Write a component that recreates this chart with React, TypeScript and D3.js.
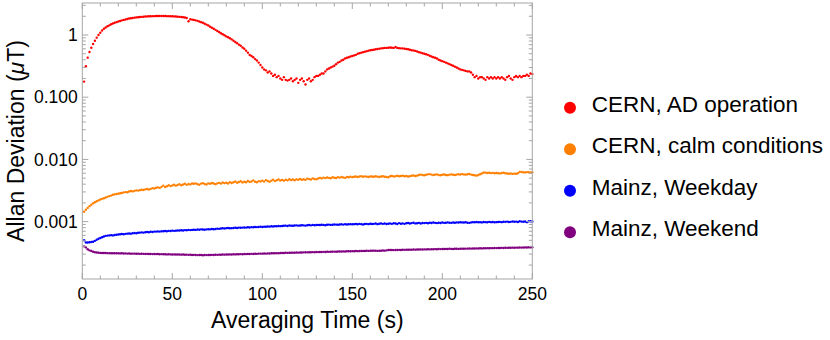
import React from "react";
import * as d3 from "d3";

// Allan deviation vs averaging time, one value per second (t = 1..250 s), values in nT
const times = d3.range(1, 251);

const cernAD = [
  178, 314, 432, 533, 625, 717, 810, 906, 1000, 1090,
  1180, 1260, 1320, 1380, 1430, 1490, 1530, 1570, 1610, 1650,
  1680, 1720, 1750, 1780, 1810, 1840, 1860, 1880, 1900, 1920,
  1930, 1950, 1960, 1970, 1980, 1990, 2000, 2000, 2010, 2010,
  2020, 2020, 2020, 2020, 2020, 2020, 2010, 2010, 2000, 2000,
  1990, 1980, 1970, 1960, 1950, 1930, 1910, 1880, 1660, 1790,
  1770, 1750, 1720, 1690, 1650, 1610, 1570, 1520, 1470, 1420,
  1360, 1310, 1260, 1210, 1160, 1120, 1070, 1030, 990, 950,
  920, 885, 850, 810, 770, 740, 700, 670, 630, 600,
  560, 520, 477, 460, 440, 410, 390, 360, 330, 300,
  280, 270, 250, 260, 240, 220, 230, 210, 220, 200,
  190, 210, 190, 185, 190, 200, 180, 190, 200, 170,
  190, 200, 180, 160, 190, 200, 180, 190, 210, 220,
  220, 230, 240, 240, 260, 280, 290, 300, 310, 320,
  340, 360, 370, 390, 400, 420, 430, 440, 450, 460,
  470, 480, 500, 510, 520, 530, 540, 550, 560, 570,
  575, 580, 590, 595, 600, 610, 615, 620, 620, 625,
  630, 625, 620, 640, 620, 615, 610, 610, 600, 595,
  590, 580, 570, 565, 555, 545, 530, 520, 510, 500,
  490, 480, 465, 450, 440, 430, 420, 400, 390, 380,
  370, 360, 350, 340, 330, 320, 310, 300, 290, 280,
  275, 270, 265, 260, 260, 250, 230, 210, 220, 200,
  210, 210, 200, 190, 210, 200, 210, 200, 210, 200,
  210, 200, 210, 200, 190, 210, 220, 200, 190, 210,
  220, 210, 220, 210, 220, 220, 230, 220, 240, 235,
];

const cernCalm = [
  1.44, 1.55, 1.66, 1.77, 1.87, 1.97, 2.05, 2.12, 2.19, 2.26,
  2.32, 2.37, 2.44, 2.5, 2.57, 2.62, 2.7, 2.74, 2.77, 2.8,
  2.85, 2.89, 2.95, 2.98, 2.96, 3.05, 3.1, 3.06, 3.12, 3.18,
  3.15, 3.2, 3.25, 3.22, 3.3, 3.34, 3.28, 3.36, 3.45, 3.4,
  3.5, 3.55, 3.48, 3.62, 3.78, 3.6, 3.7, 3.85, 3.72, 3.8,
  3.92, 3.78, 3.88, 4.0, 3.85, 3.95, 4.05, 3.9, 4.02, 3.96,
  4.1, 4.05, 4.12, 4.0, 3.92, 4.08, 4.15, 4.02, 3.95, 4.12,
  4.05, 4.18, 4.1, 4.0, 4.12, 4.2, 4.08, 4.25, 4.15, 4.22,
  4.1, 4.28, 4.18, 4.3, 4.4, 4.22, 4.32, 4.45, 4.26, 4.38,
  4.3, 4.5, 4.35, 4.42, 4.6, 4.38, 4.28, 4.48, 4.4, 4.55,
  4.42, 4.65, 4.5, 4.38, 4.55, 4.7, 4.48, 4.62, 4.75, 4.58,
  4.68, 4.55, 4.72, 4.6, 4.8, 4.66, 4.74, 4.62, 4.78, 4.7,
  4.85, 4.72, 4.8, 4.68, 4.9, 4.82, 4.75, 4.95, 4.85, 4.78,
  4.92, 5.05, 4.95, 5.1, 5.0, 5.12, 5.05, 4.98, 5.15, 5.08,
  5.02, 5.18, 5.1, 5.2, 5.12, 5.05, 5.22, 5.15, 5.28, 5.18,
  5.25, 5.32, 5.2, 5.3, 5.38, 5.26, 5.34, 5.28, 5.22, 5.3,
  5.32, 5.25, 5.35, 5.28, 5.22, 5.3, 5.36, 5.27, 5.2, 5.15,
  5.35, 5.42, 5.3, 5.38, 5.45, 5.35, 5.4, 5.48, 5.36, 5.42,
  5.3, 5.38, 5.46, 5.52, 5.4, 5.48, 5.6, 5.7, 5.62, 5.55,
  5.65, 5.75, 5.8, 5.7, 5.62, 5.68, 5.75, 5.6, 5.55, 5.65,
  5.72, 5.62, 5.58, 5.68, 5.75, 5.66, 5.6, 5.7, 5.78, 5.72,
  5.8, 5.74, 5.68, 5.76, 5.82, 5.7, 5.62, 5.55, 5.48, 5.6,
  5.78, 5.95, 6.15, 6.12, 6.05, 6.1, 6.02, 6.08, 5.98, 6.05,
  6.0, 5.95, 6.04, 6.1, 5.98, 5.92, 5.88, 5.95, 5.85, 5.9,
  5.88, 6.0, 6.3, 6.28, 6.22, 6.18, 6.25, 6.2, 6.15, 6.22,
];

const mainzWeekday = [
  0.5, 0.46, 0.46, 0.465, 0.47, 0.475, 0.49, 0.51, 0.53, 0.545,
  0.56, 0.575, 0.59, 0.595, 0.6, 0.605, 0.6, 0.61, 0.615, 0.62,
  0.625, 0.63, 0.625, 0.635, 0.64, 0.645, 0.64, 0.65, 0.655, 0.65,
  0.66, 0.665, 0.67, 0.665, 0.675, 0.68, 0.675, 0.685, 0.68, 0.69,
  0.69, 0.695, 0.69, 0.7, 0.7, 0.705, 0.7, 0.71, 0.705, 0.715,
  0.71, 0.715, 0.72, 0.72, 0.725, 0.72, 0.73, 0.725, 0.735, 0.73,
  0.735, 0.74, 0.735, 0.745, 0.74, 0.75, 0.745, 0.74, 0.75, 0.755,
  0.75, 0.76, 0.755, 0.76, 0.77, 0.765, 0.775, 0.78, 0.775, 0.785,
  0.79, 0.78, 0.785, 0.79, 0.795, 0.79, 0.8, 0.795, 0.8, 0.805,
  0.8, 0.81, 0.805, 0.815, 0.81, 0.82, 0.815, 0.82, 0.825, 0.82,
  0.83, 0.825, 0.835, 0.83, 0.84, 0.835, 0.845, 0.84, 0.85, 0.845,
  0.85, 0.855, 0.86, 0.85, 0.865, 0.86, 0.855, 0.865, 0.87, 0.86,
  0.865, 0.875, 0.87, 0.86, 0.875, 0.88, 0.87, 0.885, 0.875, 0.88,
  0.885, 0.88, 0.89, 0.885, 0.875, 0.89, 0.895, 0.885, 0.89, 0.9,
  0.895, 0.89, 0.9, 0.905, 0.895, 0.91, 0.9, 0.905, 0.91, 0.905,
  0.91, 0.915, 0.905, 0.92, 0.91, 0.9, 0.915, 0.92, 0.91, 0.925,
  0.915, 0.92, 0.93, 0.91, 0.925, 0.935, 0.92, 0.93, 0.915, 0.925,
  0.935, 0.92, 0.94, 0.93, 0.915, 0.945, 0.925, 0.935, 0.92, 0.94,
  0.95, 0.93, 0.945, 0.96, 0.935, 0.94, 0.955, 0.93, 0.95, 0.945,
  0.955, 0.94, 0.96, 0.95, 0.965, 0.955, 0.945, 0.96, 0.95, 0.965,
  0.955, 0.96, 0.97, 0.96, 0.955, 0.965, 0.96, 0.97, 0.965, 0.975,
  0.97, 0.965, 0.975, 0.96, 0.955, 0.97, 0.98, 0.975, 0.985, 0.975,
  0.98, 0.97, 0.985, 0.98, 0.975, 0.99, 0.98, 0.985, 0.975, 0.98,
  0.985, 0.99, 0.98, 0.995, 0.99, 1.0, 0.985, 0.99, 1.005, 0.995,
  1.0, 0.985, 1.01, 1.0, 0.995, 1.005, 0.98, 1.01, 1.015, 1.005,
];

const mainzWeekend = [
  0.4, 0.385, 0.36, 0.345, 0.337, 0.328, 0.322, 0.318, 0.315, 0.314,
  0.313, 0.312, 0.312, 0.311, 0.311, 0.31, 0.31, 0.31, 0.309, 0.309,
  0.308, 0.309, 0.307, 0.308, 0.306, 0.307, 0.305, 0.306, 0.305, 0.304,
  0.305, 0.303, 0.304, 0.303, 0.302, 0.303, 0.301, 0.302, 0.3, 0.301,
  0.3, 0.301, 0.299, 0.3, 0.298, 0.299, 0.297, 0.298, 0.297, 0.296,
  0.297, 0.296, 0.295, 0.296, 0.294, 0.295, 0.293, 0.294, 0.292, 0.293,
  0.291, 0.292, 0.29, 0.289, 0.291, 0.29, 0.288, 0.29, 0.289, 0.291,
  0.29, 0.292, 0.291, 0.293, 0.292, 0.294, 0.293, 0.295, 0.294, 0.296,
  0.295, 0.297, 0.296, 0.298, 0.297, 0.299, 0.298, 0.3, 0.299, 0.301,
  0.3, 0.302, 0.301, 0.303, 0.302, 0.304, 0.303, 0.305, 0.306, 0.305,
  0.307, 0.306, 0.308, 0.307, 0.309, 0.31, 0.309, 0.311, 0.31, 0.312,
  0.313, 0.312, 0.315, 0.314, 0.316, 0.315, 0.317, 0.316, 0.318, 0.317,
  0.319, 0.318, 0.32, 0.321, 0.32, 0.322, 0.321, 0.323, 0.322, 0.324,
  0.323, 0.325, 0.324, 0.326, 0.325, 0.327, 0.326, 0.328, 0.327, 0.329,
  0.328, 0.33, 0.331, 0.33, 0.332, 0.331, 0.333, 0.334, 0.333, 0.335,
  0.334, 0.336, 0.335, 0.337, 0.336, 0.338, 0.337, 0.339, 0.338, 0.34,
  0.339, 0.341, 0.34, 0.338, 0.34, 0.339, 0.342, 0.341, 0.345, 0.35,
  0.349, 0.35, 0.348, 0.35, 0.349, 0.351, 0.35, 0.352, 0.351, 0.353,
  0.352, 0.354, 0.353, 0.355, 0.354, 0.356, 0.355, 0.357, 0.356, 0.358,
  0.357, 0.359, 0.358, 0.36, 0.359, 0.361, 0.36, 0.362, 0.361, 0.363,
  0.362, 0.364, 0.363, 0.365, 0.364, 0.363, 0.365, 0.366, 0.364, 0.366,
  0.367, 0.365, 0.368, 0.367, 0.369, 0.368, 0.37, 0.369, 0.371, 0.37,
  0.372, 0.371, 0.373, 0.372, 0.374, 0.373, 0.375, 0.374, 0.376, 0.375,
  0.377, 0.376, 0.378, 0.377, 0.379, 0.378, 0.38, 0.379, 0.381, 0.38,
  0.382, 0.381, 0.383, 0.382, 0.384, 0.385, 0.384, 0.386, 0.385, 0.386,
];

const seriesNames = [
  "CERN, AD operation",
  "CERN, calm conditions",
  "Mainz, Weekday",
  "Mainz, Weekend",
];
const seriesColors = ["#ff0000", "#ff8000", "#0000ff", "#800080"];
const seriesValues = [cernAD, cernCalm, mainzWeekday, mainzWeekend];

const xTicks = [0, 50, 100, 150, 200, 250];
const yTicks = [0.001, 0.01, 0.1, 1];
const yTickLabels = ["0.001", "0.010", "0.100", "1"];

const W = 830;
const H = 340;
const FONT = "'Liberation Sans', Arial, Helvetica, sans-serif";
const FRAME = "#a6a6a6";

export default function App() {
  const left = 82.3;
  const right = 532.3;
  const top = 3;
  const bottom = 279;

  const x = d3.scaleLinear().domain([0, 250]).range([left, right]);
  const y = d3.scaleLog().domain([1.194e-4, 3.27]).range([bottom, top]);

  const xMinor = d3.range(0, 251, 10).filter((v) => v % 50 !== 0);
  const yAll = y.ticks(); // 1..9 x each decade
  const isMajor = (v: number) =>
    yTicks.some((t) => Math.abs(v / t - 1) < 1e-6);
  const yMinor = yAll.filter((v) => !isMajor(v));

  const majLen = 6;
  const minLen = 3.5;

  return (
    <svg
      width={W}
      height={H}
      style={{ position: "absolute", left: 0, top: 0, background: "#fff" }}
      fontFamily={FONT}
    >
      {/* data points */}
      {seriesValues.map((vals, si) => (
        <g key={si} fill={seriesColors[si]}>
          {vals.map((v, i) => (
            <circle
              key={i}
              cx={x(times[i])}
              cy={y(v / 1000)}
              r={1.2}
            />
          ))}
        </g>
      ))}

      {/* frame */}
      <rect
        x={left}
        y={top}
        width={right - left}
        height={bottom - top}
        fill="none"
        stroke={FRAME}
        strokeWidth={1}
      />

      {/* ticks on all four sides, pointing inward */}
      <g stroke={FRAME} strokeWidth={1}>
        {xTicks.map((t) => (
          <g key={"xm" + t}>
            <line x1={x(t)} x2={x(t)} y1={bottom} y2={bottom - majLen} />
            <line x1={x(t)} x2={x(t)} y1={top} y2={top + majLen} />
          </g>
        ))}
        {xMinor.map((t) => (
          <g key={"xn" + t}>
            <line x1={x(t)} x2={x(t)} y1={bottom} y2={bottom - minLen} />
            <line x1={x(t)} x2={x(t)} y1={top} y2={top + minLen} />
          </g>
        ))}
        {yTicks.map((t) => (
          <g key={"ym" + t}>
            <line x1={left} x2={left + majLen} y1={y(t)} y2={y(t)} />
            <line x1={right} x2={right - majLen} y1={y(t)} y2={y(t)} />
          </g>
        ))}
        {yMinor.map((t, i) => (
          <g key={"yn" + i}>
            <line x1={left} x2={left + minLen} y1={y(t)} y2={y(t)} />
            <line x1={right} x2={right - minLen} y1={y(t)} y2={y(t)} />
          </g>
        ))}
      </g>

      {/* tick labels */}
      <g fontSize={17.5} fill="#000">
        {xTicks.map((t) => (
          <text key={"xl" + t} x={x(t)} y={300} textAnchor="middle">
            {t}
          </text>
        ))}
        {yTicks.map((t, i) => (
          <text
            key={"yl" + t}
            x={left - 4.5}
            y={y(t)}
            dy="0.36em"
            textAnchor="end"
          >
            {yTickLabels[i]}
          </text>
        ))}
      </g>

      {/* axis titles */}
      <text
        x={(left + right) / 2}
        y={328}
        textAnchor="middle"
        fontSize={23}
        fill="#000"
      >
        Averaging Time (s)
      </text>
      <text
        transform={`translate(24, ${(top + bottom) / 2}) rotate(-90)`}
        textAnchor="middle"
        fontSize={23}
        fill="#000"
      >
        Allan Deviation (<tspan fontStyle="italic">μ</tspan>T)
      </text>

      {/* legend */}
      <g>
        {seriesNames.map((name, i) => (
          <g key={name} transform={`translate(570, ${107.7 + i * 41.5})`}>
            <circle r={6} fill={seriesColors[i]} />
            <text x={21.7} y={4} fontSize={22.5} fill="#000">
              {name}
            </text>
          </g>
        ))}
      </g>
    </svg>
  );
}
